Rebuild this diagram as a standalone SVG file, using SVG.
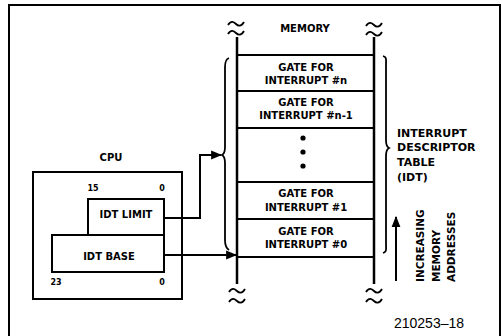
<svg xmlns="http://www.w3.org/2000/svg" width="502" height="336" viewBox="0 0 502 336">
<defs>
<style>
.t{font-family:"DejaVu Sans","Liberation Sans",sans-serif;font-weight:bold;font-size:10px;fill:#000}
.c{text-anchor:middle}
.s{font-size:8px}
.ln{stroke:#000;stroke-width:2;fill:none}
.th{stroke:#000;stroke-width:2.5;fill:none}
.br{stroke:#000;stroke-width:1.8;fill:none}
</style>
<marker id="ah" viewBox="0 0 10 10" refX="9" refY="5" markerWidth="5.5" markerHeight="5.5" orient="auto">
<path d="M0,1 L10,5 L0,9 Z" fill="#000"/>
</marker>
<path id="tl" d="M0,3 C3,-2 6,0 8,2 C10,4 13,5 16,0" class="br"/>
</defs>
<rect width="502" height="336" fill="#fff"/>
<rect x="9" y="5" width="491" height="340" class="ln"/>

<g id="memory">
<text class="t c" x="305" y="32">MEMORY</text>
<line x1="237" y1="37" x2="237" y2="284" class="th"/>
<line x1="374" y1="37" x2="374" y2="284" class="th"/>
<use href="#tl" x="228" y="22"/>
<use href="#tl" x="228" y="31"/>
<use href="#tl" x="366" y="23"/>
<use href="#tl" x="366" y="32"/>
<use href="#tl" x="229" y="289"/>
<use href="#tl" x="229" y="299"/>
<use href="#tl" x="366" y="289"/>
<use href="#tl" x="366" y="299"/>
<g class="ln">
<line x1="237" y1="55" x2="374" y2="55"/>
<line x1="237" y1="91" x2="374" y2="91"/>
<line x1="237" y1="128" x2="374" y2="128"/>
<line x1="237" y1="182" x2="374" y2="182"/>
<line x1="237" y1="219" x2="374" y2="219"/>
<line x1="237" y1="257" x2="374" y2="257"/>
</g>
</g>

<g id="gate-n">
<text class="t c" x="306" y="71">GATE FOR</text>
<text class="t c" x="306" y="84">INTERRUPT #n</text>
</g>
<g id="gate-n-1">
<text class="t c" x="306" y="106">GATE FOR</text>
<text class="t c" x="306" y="119">INTERRUPT #n-1</text>
</g>
<g id="dots">
<circle cx="303" cy="138" r="2.6"/>
<circle cx="303" cy="152" r="2.6"/>
<circle cx="303" cy="166" r="2.6"/>
</g>
<g id="gate-1">
<text class="t c" x="306" y="197">GATE FOR</text>
<text class="t c" x="306" y="211">INTERRUPT #1</text>
</g>
<g id="gate-0">
<text class="t c" x="306" y="235">GATE FOR</text>
<text class="t c" x="306" y="248">INTERRUPT #0</text>
</g>

<g id="idt-label">
<path class="br" d="M383,56 C387,57 386,60 386,65 L386,140 C386,145 387,147 389,148 C387,149 386,151 386,156 L386,244 C386,249 387,252 383,253"/>
<text class="t" x="397" y="137" style="font-size:11px">INTERRUPT</text>
<text class="t" x="397" y="151" style="font-size:11px">DESCRIPTOR</text>
<text class="t" x="397" y="166" style="font-size:11px">TABLE</text>
<text class="t" x="397" y="181" style="font-size:11px">(IDT)</text>
</g>

<g id="limit-brace">
<path class="br" d="M229,58 C226,59 225,62 225,67 L225,147 C225,152 224,154 222,155 C224,156 225,158 225,163 L225,240 C225,245 226,248 229,250"/>
</g>

<g id="addresses">
<line x1="396" y1="281" x2="396" y2="217" class="ln" marker-end="url(#ah)"/>
<text class="t" transform="translate(424,282) rotate(-90)" style="font-size:10.5px">INCREASING</text>
<text class="t" transform="translate(440,282) rotate(-90)" style="font-size:10.5px">MEMORY</text>
<text class="t" transform="translate(455,282) rotate(-90)" style="font-size:10.5px">ADDRESSES</text>
</g>

<g id="cpu">
<text class="t c" x="111" y="161">CPU</text>
<rect x="33" y="172" width="149" height="127" class="ln"/>
<text class="t s c" x="93" y="191">15</text>
<text class="t s c" x="162" y="191">0</text>
<text class="t s c" x="56" y="285">23</text>
<text class="t s c" x="162" y="285">0</text>
</g>
<g id="idt-limit">
<rect x="88" y="199" width="76" height="36" class="ln"/>
<text class="t c" x="126" y="218">IDT LIMIT</text>
</g>
<g id="idt-base">
<rect x="52" y="235" width="112" height="37" class="ln"/>
<text class="t c" x="109" y="260">IDT BASE</text>
</g>

<g id="connectors">
<polyline points="164,218 200,218 200,155 221,155" class="ln" marker-end="url(#ah)"/>
<line x1="164" y1="255" x2="236" y2="255" class="ln" marker-end="url(#ah)"/>
</g>

<text x="429" y="328" style="font-family:'Liberation Sans',Arial,sans-serif;font-size:14px;text-anchor:middle">210253–18</text>
</svg>
